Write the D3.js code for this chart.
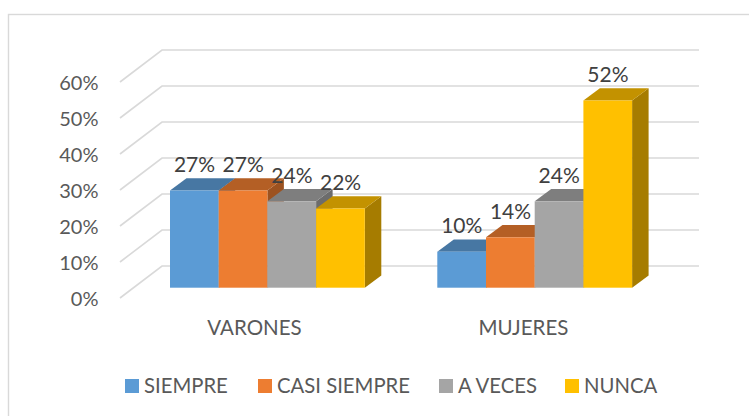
<!DOCTYPE html>
<html>
<head>
<meta charset="utf-8">
<script src="https://cdn.jsdelivr.net/npm/d3@7"></script>
<style>
  html, body { margin: 0; padding: 0; background: #fff; }
  text { font-family: Lato, "Open Sans", sans-serif; }
</style>
</head>
<body>
<script>
var groups = ['VARONES', 'MUJERES']
var seriesNames = ['SIEMPRE', 'CASI SIEMPRE', 'A VECES', 'NUNCA']
var siempre = [0.27, 0.10]
var casiSiempre = [0.27, 0.14]
var aVeces = [0.24, 0.24]
var nunca = [0.22, 0.52]
var seriesValues = [siempre, casiSiempre, aVeces, nunca]
var ticks = [0, 0.1, 0.2, 0.3, 0.4, 0.5, 0.6]

var front = ['#5b9bd5', '#ed7d31', '#a5a5a5', '#ffc000']
var top_ = ['#4777a3', '#b45f25', '#7e7e7e', '#c39200']
var side = ['#3d6690', '#9c5220', '#6c6c6c', '#a67c00']

var width = 749
var height = 416

// wall depth and bar depth of the fake 3d
var wall = {dx: 42, dy: 32}
var depth = {dx: 16.5, dy: 12.3}
var baseY = 287.7

var y = d3.scaleLinear().domain([0, 0.6]).range([0, 216])
var catX = d3.scaleBand().domain(groups).range([120, 658])
var barStart = d3.scaleOrdinal().domain(groups).range([170, 437.3])
var barW = 48.7
var x1 = d3.scaleBand().domain(seriesNames).range([0, barW * 4])

var svg = d3.select('body').append('svg')
  .attr('width', width)
  .attr('height', height)
  .style('display', 'block')

// frame runs off the right and bottom of the picture
svg.append('rect')
  .attr('x', 8.5).attr('y', 14.5)
  .attr('width', 760).attr('height', 420)
  .attr('fill', '#fff')
  .attr('stroke', '#d9d9d9')
  .attr('stroke-width', 1.4)

// grid on back wall and side wall
var backX0 = 162
var backX1 = 699
var backY0 = 266
var grid = svg.append('g')
  .attr('fill', 'none')
  .attr('stroke', '#d9d9d9')
  .attr('stroke-width', 1.6)
ticks.forEach(function (t) {
  var gy = backY0 - y(t)
  grid.append('path')
    .attr('d', d3.line()([[backX0 - wall.dx, gy + wall.dy], [backX0, gy], [backX1, gy]]))
})

// y axis labels
svg.selectAll('.ylab')
  .data(ticks)
  .enter().append('text')
  .attr('class', 'ylab')
  .attr('x', 98.5)
  .attr('y', d => backY0 + wall.dy - y(d) + 7.5)
  .attr('text-anchor', 'end')
  .attr('fill', '#595959')
  .style('font-size', '20px')
  .text(d3.format('.0%'))

// bars, back to front so side faces get covered properly
groups.forEach(function (g, gi) {
  var gEl = svg.append('g')
    .attr('transform', `translate(${barStart(g)}, 0)`)
  seriesNames.forEach(function (s, si) {
    var v = seriesValues[si][gi]
    var l = x1(s)
    var r = l + x1.bandwidth()
    var t = baseY - y(v)
    gEl.append('path')
      .attr('fill', side[si])
      .attr('d', d3.line()([[r, t], [r + depth.dx, t - depth.dy], [r + depth.dx, baseY - depth.dy], [r, baseY]]) + 'Z')
    gEl.append('path')
      .attr('fill', top_[si])
      .attr('d', d3.line()([[l, t], [l + depth.dx, t - depth.dy], [r + depth.dx, t - depth.dy], [r, t]]) + 'Z')
    gEl.append('rect')
      .attr('x', l).attr('y', t)
      .attr('width', x1.bandwidth())
      .attr('height', y(v))
      .attr('fill', front[si])
    gEl.append('text')
      .attr('x', l + 24.5)
      .attr('y', t - 18.7)
      .attr('text-anchor', 'middle')
      .attr('fill', '#404040')
      .style('font-size', '21px')
      .text(d3.format('.0%')(v))
  })
})

// category labels
svg.selectAll('.cat')
  .data(groups)
  .enter().append('text')
  .attr('class', 'cat')
  .attr('x', d => catX(d) + catX.bandwidth() / 2)
  .attr('y', 335)
  .attr('text-anchor', 'middle')
  .attr('fill', '#595959')
  .style('font-size', '20.5px')
  .text(d => d)

// legend
var legendX = [125, 258, 439, 565]
var legend = svg.selectAll('.leg')
  .data(seriesNames)
  .enter().append('g')
  .attr('class', 'leg')
  .attr('transform', (d, i) => `translate(${legendX[i]}, 379)`)
legend.append('rect')
  .attr('width', 14).attr('height', 14)
  .attr('fill', (d, i) => front[i])
legend.append('text')
  .attr('x', 19)
  .attr('y', 14)
  .attr('fill', '#595959')
  .style('font-size', '20.3px')
  .text(d => d)
</script>
</body>
</html>
